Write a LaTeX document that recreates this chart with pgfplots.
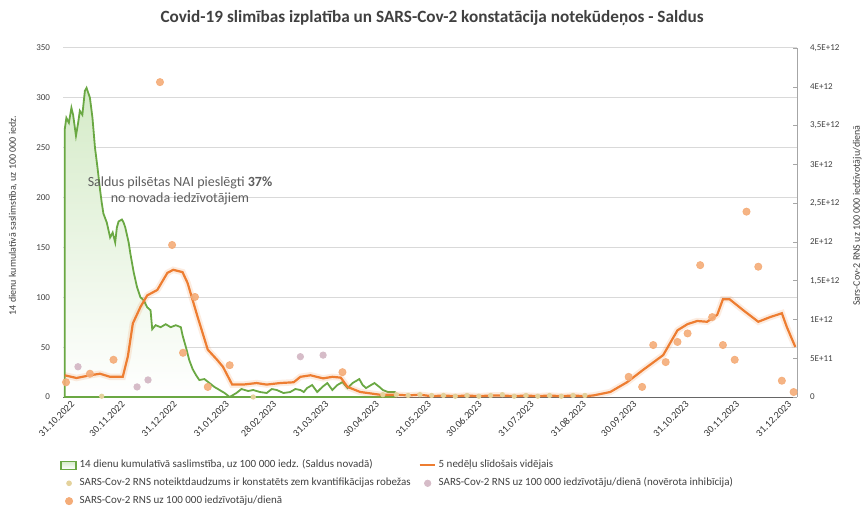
\documentclass[border=0pt]{standalone}
\usepackage{fontspec}
\setmainfont{Carlito}
\usepackage{pgfplots}
\pgfplotsset{compat=1.18}

\definecolor{grn}{HTML}{6AA843}
\definecolor{grnfill}{HTML}{D5EBC8}
\definecolor{org}{HTML}{ED7D31}
\definecolor{dotorg}{HTML}{F4AC78}
\definecolor{dotpink}{HTML}{D6BCC8}
\definecolor{dotyel}{HTML}{E4D29C}
\definecolor{gridc}{HTML}{D9D9D9}
\definecolor{txt}{HTML}{404040}

\pgfplotsset{
  base/.style={
    scale only axis, width=367pt, height=174.5pt,
    at={(31.5pt,55.5pt)}, anchor=south west,
    xmin=0, xmax=436,
    major tick length=0pt,
    /pgf/number format/assume math mode=true,
    yticklabel style={font=\fontsize{4.5}{5}\selectfont, text=txt},
    ylabel style={font=\fontsize{5}{6}\selectfont, text=txt, anchor=center},
  },
  lgarea/.style={legend image code/.code={\draw[draw=grn, fill=grnfill, line width=0.6pt] (0pt,-2pt) rectangle (7.5pt,2pt);}},
  lgline/.style={legend image code/.code={\draw[org, line width=1pt] (0pt,0pt) -- (7.5pt,0pt);}},
  lgyel/.style={legend image code/.code={\fill[dotyel] (4pt,0pt) circle (1.2pt);}},
  lgpink/.style={legend image code/.code={\fill[dotpink] (4pt,0pt) circle (1.6pt);}},
  lgorg/.style={legend image code/.code={\fill[dotorg] (4pt,0pt) circle (1.8pt);}},
}

\begin{document}
\begin{tikzpicture}
\useasboundingbox (0,0) rectangle (432.5pt,254pt);
\node[font=\bfseries\fontsize{8.6}{10}\selectfont, text=txt] at (216pt,245pt)
  {Covid-19 slimības izplatība un SARS-Cov-2 konstatācija notekūdeņos - Saldus};

% left axis: 14-day incidence
\begin{axis}[base,
  ymin=0, ymax=350, ytick={0,50,...,350},
  ymajorgrids, grid style={gridc, line width=0.5pt},
  axis x line*=bottom, axis y line*=left,
  y axis line style={draw=none},
  x axis line style={draw=gray!80!black, line width=0.5pt},
  xtick={0,30,61,92,120,151,181,212,242,273,304,334,365,395,426},
  xticklabels={31.10.2022,30.11.2022,31.12.2022,31.01.2023,28.02.2023,31.03.2023,30.04.2023,31.05.2023,30.06.2023,31.07.2023,31.08.2023,30.09.2023,31.10.2023,30.11.2023,31.12.2023},
  xticklabel style={rotate=45, anchor=east, font=\fontsize{5}{6}\selectfont, text=black!80, inner sep=1pt, xshift=2.5pt, yshift=-5.5pt},
  yticklabel style={xshift=-3pt},
  ylabel={14 dienu kumulatīvā saslimstība, uz 100 000 iedz.},
  ylabel style={at={(axis description cs:-0.068,0.52)}},
  legend columns=2, legend cell align=left,
  legend style={draw=none, fill=none, font=\fontsize{5.5}{6.5}\selectfont, text=txt,
    at={(-0.004,-0.17)}, anchor=north west, row sep=0.5pt, inner sep=0pt,
    nodes={inner sep=1.5pt},
    /tikz/every even column/.append style={column sep=0pt}},
]
\addplot[draw=grn, line width=0.9pt, top color=grnfill, bottom color=white, lgarea]
coordinates {
(1,268)(2,280)(3.5,275)(5,290)(6,283)(7.7,262)(9,275)(10,287)(11.5,283)(13,307)(14,310)(15,305)(16,300)
(17.5,280)(19,250)(20.5,230)(22,208)(23,195)(24,184)(26,175)(28,160)(29.5,165)(31,155)(32,170)(33,176)
(35,178)(36,175)(37,170)(39,155)(40,144)(42,125)(44,110)(46,100)(48,97)(50,90)(52,87)(53,68)(55,72)
(58,70)(61,73)(64,70)(67,72)(70,70)(71,62)(73,50)(75,37)(77,28)(79,22)(81,17)(84,18)(87,14)(90,10)
(93,7)(96,4)(99,0)(101,2)(103,4)(106,8)(110,6)(113,7)(117,5)(121,4)(124,8)(127,7)(131,4)(135,5)
(138,8)(141,7)(143,5)(145,9)(148,12)(151,5)(154,10)(157,14)(160,7)(163,12)(166,15)(169,9)(172,14)
(176,18)(178,12)(180,9)(183,12)(185,14)(188,10)(190,7)(193,5)(197,5)
} \closedcycle;
\addlegendentry{\makebox[168pt][l]{14 dienu kumulatīvā saslimstība, uz 100 000 iedz. (Saldus novadā)}}
\addlegendimage{lgline}
\addlegendentry{5 nedēļu slīdošais vidējais}
\addlegendimage{lgyel}
\addlegendentry{\makebox[168pt][l]{SARS-Cov-2 RNS noteiktdaudzums ir konstatēts zem kvantifikācijas robežas}}
\addlegendimage{lgpink}
\addlegendentry{SARS-Cov-2 RNS uz 100 000 iedzīvotāju/dienā (novērota inhibīcija)}
\addlegendimage{lgorg}
\addlegendentry{SARS-Cov-2 RNS uz 100 000 iedzīvotāju/dienā}

\node[font=\fontsize{7}{8}\selectfont, text=txt!85, align=center] at (axis cs:69.5,207)
  {Saldus pilsētas NAI pieslēgti \textbf{37\%}\\no novada iedzīvotājiem};
\end{axis}

% right axis: RNA copies
\begin{axis}[base,
  ymin=0, ymax=4.5, ytick={0,0.5,...,4.5},
  yticklabels={0,5E+11,1E+12,{1,5E+12},2E+12,{2,5E+12},3E+12,{3,5E+12},4E+12,{4,5E+12}},
  axis x line=none, axis y line*=right,
  y axis line style={draw=gray!70, line width=0.5pt},
  ytick style={draw=gray!70}, major tick length=2pt,
  yticklabel style={anchor=west, xshift=3pt},
  ylabel={Sars-Cov-2 RNS uz 100 000 iedzīvotāju/dienā},
  ylabel style={at={(axis description cs:1.082,0.52)}},
]
\addplot[only marks, mark=*, mark size=1.1pt, mark options={draw=dotyel, fill=dotyel}]
coordinates {
(23,0.01)(113,0.0)(190,0.03)(198,0.03)(205,0.02)(212,0.03)(219,0.02)(226,0.02)(233,0.01)(240,0.02)
(247,0.01)(254,0.02)(261,0.03)(268,0.01)(275,0.02)(282,0.01)(289,0.02)(296,0.01)(303,0.02)(310,0.02)
};
\addplot[org, line width=3.2pt, opacity=0.15]
coordinates {
(1,0.28)(8,0.245)(16,0.28)(22,0.30)(28,0.26)(35.5,0.26)(38.5,0.52)(41.5,0.95)(46,1.16)(50,1.31)
(56,1.38)(62,1.60)(65.5,1.64)(71,1.61)(74,1.47)(80,1.03)(86,0.61)(91.5,0.48)(95,0.39)(100.5,0.16)
(107,0.16)(115,0.18)(121,0.16)(129,0.18)(137,0.19)(141,0.26)(147,0.28)(154.5,0.24)(160,0.26)(165,0.25)
(169,0.13)(176.5,0.065)(188,0.03)(198,0.03)(205,0.02)(212,0.03)(219,0.01)(226,0.02)(233,0.01)(240,0.02)
(247,0.01)(254,0.02)(261,0.02)(268,0.01)(275,0.02)(282,0.01)(289,0.02)(296,0.01)(303,0.02)(310,0.01)
(315,0.02)(325,0.064)(335,0.19)(344.6,0.35)(356.5,0.54)(365,0.86)(371,0.94)(376.7,0.98)(382.6,0.97)
(388.6,1.06)(392,1.26)(396,1.26)(404,1.12)(413,0.97)(420,1.03)(427,1.08)(430,0.90)(435,0.645)
};
\addplot[org, line width=1.1pt]
coordinates {
(1,0.28)(8,0.245)(16,0.28)(22,0.30)(28,0.26)(35.5,0.26)(38.5,0.52)(41.5,0.95)(46,1.16)(50,1.31)
(56,1.38)(62,1.60)(65.5,1.64)(71,1.61)(74,1.47)(80,1.03)(86,0.61)(91.5,0.48)(95,0.39)(100.5,0.16)
(107,0.16)(115,0.18)(121,0.16)(129,0.18)(137,0.19)(141,0.26)(147,0.28)(154.5,0.24)(160,0.26)(165,0.25)
(169,0.13)(176.5,0.065)(188,0.03)(198,0.03)(205,0.02)(212,0.03)(219,0.01)(226,0.02)(233,0.01)(240,0.02)
(247,0.01)(254,0.02)(261,0.02)(268,0.01)(275,0.02)(282,0.01)(289,0.02)(296,0.01)(303,0.02)(310,0.01)
(315,0.02)(325,0.064)(335,0.19)(344.6,0.35)(356.5,0.54)(365,0.86)(371,0.94)(376.7,0.98)(382.6,0.97)
(388.6,1.06)(392,1.26)(396,1.26)(404,1.12)(413,0.97)(420,1.03)(427,1.08)(430,0.90)(435,0.645)
};
\addplot[only marks, mark=*, mark size=1.6pt, mark options={draw=dotpink, fill=dotpink}]
coordinates {(8.9,0.39)(44,0.13)(50.5,0.22)(141,0.52)(154.5,0.54)};
\addplot[only marks, mark=*, mark size=1.8pt, mark options={draw=dotorg, fill=dotorg, opacity=0.9}]
coordinates {
(1.8,0.19)(16,0.30)(30,0.48)(57.6,4.06)(64.8,1.96)(71.3,0.57)(78.4,1.29)(86,0.13)(99,0.41)(166,0.32)
(336,0.26)(344,0.13)(350.6,0.67)(358,0.45)(365,0.71)(371,0.82)(378.5,1.70)(385.6,1.03)(392,0.67)
(399,0.48)(406,2.39)(413,1.68)(427,0.21)(434,0.064)
};
\end{axis}
\end{tikzpicture}
\end{document}
